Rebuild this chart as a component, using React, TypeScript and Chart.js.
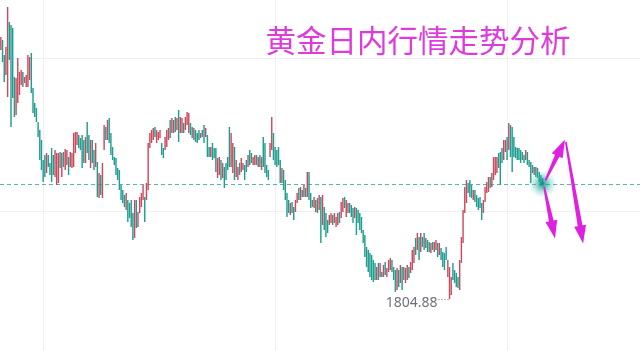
import React, { useEffect, useRef } from "react";
import { Chart, registerables } from "chart.js";

Chart.register(...registerables);

// Candle opens / closes (USD), left to right
const opens: number[] = [
  1854.7, 1856.7, 1853.7, 1849.7, 1845.3, 1860.3, 1859.7, 1859.1, 1849.3, 1841.7,
  1844.1, 1845.7, 1847.7, 1850.3, 1848.1, 1847.3, 1847.3, 1848.7, 1854.1, 1847.1,
  1844.1, 1843.1, 1840.3, 1838.7, 1836.7, 1832.7, 1833.7, 1830.1, 1833.7, 1832.1,
  1835.1, 1833.7, 1829.3, 1827.7, 1828.1, 1834.3, 1829.3, 1834.3, 1830.7, 1831.7,
  1833.3, 1831.3, 1831.1, 1831.3, 1834.1, 1835.7, 1837.7, 1837.1, 1837.7, 1836.7,
  1832.1, 1840.3, 1837.7, 1831.1, 1836.7, 1834.7, 1831.3, 1832.3, 1825.1, 1829.7,
  1825.1, 1834.7, 1839.3, 1836.7, 1841.1, 1838.1, 1835.3, 1833.3, 1833.1, 1831.1,
  1830.7, 1827.7, 1826.7, 1825.7, 1822.7, 1824.7, 1824.1, 1824.7, 1822.1, 1817.1,
  1824.7, 1819.3, 1822.1, 1823.3, 1824.7, 1825.3, 1824.7, 1826.7, 1835.1, 1836.1,
  1836.7, 1839.3, 1836.1, 1836.7, 1837.1, 1836.1, 1835.1, 1834.7, 1835.3, 1836.7,
  1840.7, 1838.1, 1838.1, 1841.3, 1838.7, 1842.7, 1838.1, 1838.1, 1840.1, 1838.7,
  1839.7, 1838.1, 1840.1, 1839.3, 1836.7, 1838.7, 1838.1, 1838.7, 1837.1, 1838.7,
  1839.7, 1837.3, 1837.7, 1835.3, 1833.3, 1836.1, 1835.1, 1835.1, 1829.1, 1829.7,
  1832.7, 1829.1, 1831.3, 1832.1, 1833.3, 1839.3, 1831.3, 1830.1, 1835.3, 1829.3,
  1828.7, 1832.1, 1830.3, 1830.7, 1831.7, 1832.7, 1831.3, 1834.7, 1834.1, 1831.7,
  1831.7, 1833.7, 1831.3, 1833.7, 1830.7, 1837.3, 1836.1, 1831.7, 1830.7, 1833.3,
  1834.7, 1838.1, 1835.3, 1834.7, 1835.3, 1832.7, 1828.1, 1830.7, 1828.7, 1826.1,
  1824.7, 1821.7, 1824.3, 1823.3, 1822.3, 1824.1, 1827.1, 1824.7, 1826.7, 1825.3,
  1827.1, 1825.3, 1830.3, 1826.1, 1824.7, 1823.1, 1822.3, 1825.1, 1822.7, 1825.3,
  1819.7, 1823.3, 1822.1, 1820.7, 1819.7, 1820.1, 1821.7, 1820.1, 1819.3, 1819.7,
  1822.3, 1821.1, 1822.3, 1825.3, 1821.3, 1822.1, 1824.1, 1823.7, 1823.1, 1821.1,
  1823.1, 1822.7, 1822.1, 1821.3, 1818.7, 1817.7, 1815.3, 1814.7, 1814.1, 1813.7,
  1812.7, 1812.1, 1808.7, 1812.1, 1809.3, 1810.3, 1809.3, 1812.3, 1809.3, 1810.3,
  1810.7, 1812.7, 1811.3, 1810.7, 1806.7, 1810.7, 1808.1, 1811.3, 1811.3, 1808.1,
  1808.7, 1811.3, 1810.1, 1810.7, 1812.1, 1817.1, 1814.7, 1817.3, 1814.3, 1817.3,
  1818.1, 1815.1, 1816.7, 1816.3, 1814.1, 1816.3, 1814.3, 1814.7, 1816.1, 1813.7,
  1815.1, 1814.3, 1814.1, 1815.3, 1809.3, 1804.88, 1805.7, 1812.1, 1810.7, 1810.1,
  1809.3, 1806.7, 1812.1, 1816.1, 1822.1, 1824.1, 1828.1, 1828.7, 1827.7, 1824.7,
  1826.7, 1825.7, 1825.1, 1825.3, 1824.1, 1822.1, 1824.3, 1826.1, 1826.3, 1829.3,
  1827.3, 1828.7, 1829.7, 1830.1, 1834.1, 1834.3, 1835.1, 1832.7, 1834.3, 1837.3,
  1834.7, 1839.7, 1839.3, 1837.3, 1835.3, 1835.1, 1835.1, 1834.7, 1834.3, 1833.7,
  1832.7, 1834.3, 1832.7, 1832.3, 1831.7, 1829.7, 1831.3, 1831.1, 1830.3, 1829.7,
  1829.1,
];

const closes: number[] = [
  1857.3, 1852.3, 1848.3, 1855.3, 1863.3, 1852.7, 1839.3, 1845.1, 1841.3, 1849.1,
  1853.1, 1850.3, 1850.7, 1847.3, 1849.3, 1849.7, 1853.7, 1853.3, 1846.1, 1842.1,
  1841.3, 1840.3, 1837.3, 1832.7, 1830.7, 1828.3, 1829.3, 1834.1, 1831.3, 1829.7,
  1828.3, 1829.7, 1834.7, 1834.1, 1834.1, 1831.1, 1834.1, 1831.3, 1834.9, 1834.7,
  1829.7, 1834.3, 1834.1, 1838.1, 1838.3, 1838.3, 1835.1, 1834.7, 1831.1, 1832.1,
  1837.3, 1834.1, 1832.7, 1836.7, 1832.1, 1830.7, 1836.1, 1825.3, 1830.1, 1825.7,
  1832.1, 1839.7, 1836.7, 1840.7, 1836.1, 1833.7, 1832.7, 1831.7, 1829.7, 1828.7,
  1826.7, 1824.7, 1824.1, 1823.3, 1826.1, 1820.3, 1821.1, 1819.3, 1816.7, 1824.7,
  1819.1, 1822.3, 1825.3, 1826.1, 1827.7, 1820.3, 1828.1, 1836.1, 1838.1, 1838.7,
  1839.1, 1837.3, 1838.7, 1838.3, 1838.7, 1833.7, 1833.1, 1837.3, 1838.7, 1839.1,
  1837.1, 1841.1, 1840.7, 1838.3, 1841.1, 1836.3, 1841.3, 1841.1, 1838.1, 1841.3,
  1842.3, 1842.1, 1837.7, 1837.1, 1839.1, 1836.3, 1836.1, 1836.7, 1838.1, 1837.3,
  1836.1, 1839.1, 1833.3, 1833.3, 1835.3, 1832.7, 1833.1, 1830.3, 1833.1, 1833.3,
  1828.7, 1832.1, 1827.1, 1828.7, 1830.7, 1831.3, 1838.1, 1836.1, 1828.7, 1832.7,
  1831.3, 1829.7, 1833.1, 1832.1, 1828.7, 1830.3, 1833.7, 1831.7, 1832.1, 1833.3,
  1833.7, 1831.7, 1833.3, 1831.3, 1833.3, 1831.3, 1830.1, 1829.3, 1828.7, 1836.1,
  1841.3, 1832.7, 1831.7, 1831.3, 1831.7, 1828.1, 1831.1, 1826.7, 1824.7, 1821.3,
  1822.1, 1824.1, 1822.1, 1820.7, 1824.7, 1826.1, 1824.7, 1827.3, 1825.3, 1827.7,
  1825.3, 1830.3, 1824.7, 1823.1, 1823.3, 1825.3, 1824.7, 1822.1, 1825.7, 1816.1,
  1825.7, 1818.7, 1817.3, 1818.1, 1821.7, 1822.1, 1819.7, 1822.1, 1821.3, 1822.1,
  1820.1, 1824.3, 1825.1, 1823.1, 1824.7, 1824.1, 1822.1, 1821.3, 1820.1, 1823.3,
  1817.7, 1820.1, 1818.7, 1818.1, 1816.1, 1813.3, 1811.3, 1810.3, 1809.3, 1808.7,
  1808.3, 1808.7, 1811.3, 1808.7, 1812.1, 1809.3, 1811.7, 1809.7, 1811.1, 1812.7,
  1813.1, 1810.3, 1808.7, 1806.3, 1811.1, 1807.3, 1811.7, 1806.7, 1808.7, 1811.1,
  1811.7, 1809.1, 1812.3, 1814.7, 1815.3, 1813.7, 1818.1, 1812.7, 1818.1, 1815.3,
  1814.7, 1817.1, 1814.3, 1814.3, 1816.1, 1814.7, 1816.3, 1816.7, 1813.3, 1816.1,
  1812.7, 1811.3, 1810.7, 1812.7, 1812.7, 1811.3, 1809.3, 1808.7, 1808.1, 1807.3,
  1807.1, 1812.7, 1817.3, 1822.7, 1827.3, 1828.7, 1826.1, 1825.3, 1825.1, 1826.7,
  1824.3, 1823.3, 1822.7, 1823.1, 1820.7, 1824.7, 1827.3, 1828.3, 1829.3, 1827.1,
  1830.1, 1833.3, 1833.3, 1833.3, 1831.1, 1827.7, 1832.1, 1836.7, 1836.7, 1832.7,
  1840.1, 1833.3, 1830.3, 1833.3, 1833.1, 1832.7, 1832.7, 1832.1, 1832.7, 1832.1,
  1834.7, 1831.7, 1831.3, 1828.1, 1830.1, 1831.3, 1829.3, 1829.1, 1828.3, 1827.7,
  1827.9,
];

const totalSlots = 378; // time slots incl. empty space on the right
const priceMin = 1794.5;
const priceMax = 1864.7;
const priceGridLevels = [1822.5, 1852.9];
const timeGridIdx = [25, 162, 299];
const titleText = "黄金日内行情走势分析";
// forecast arrows: [slot index, price] from -> to
const arrowPaths: number[][][] = [
  [[321.6, 1828.6], [333.2, 1836.8]],
  [[333.7, 1836.3], [343.9, 1816.0]],
  [[320.9, 1827.3], [327.3, 1817.0]],
];

const UP = "#cc4a5e";
const DOWN = "#1d9e8f";

export default function App() {
  const ref = useRef<HTMLCanvasElement>(null);

  useEffect(() => {
    document.body.style.margin = "0";
    const canvas = ref.current!;
    const lastIdx = closes.length - 1;
    const labels = Array.from({ length: totalSlots }, (_, i) => String(i));

    const drawArrow = (ctx: CanvasRenderingContext2D, x1: number, y1: number, x2: number, y2: number) => {
      const dx = x2 - x1, dy = y2 - y1;
      const L = Math.hypot(dx, dy);
      const ux = dx / L, uy = dy / L;
      const nx = -uy, ny = ux;
      const h = 18, hw = 6, w0 = 0.9, w1 = 2.4;
      const bx = x2 - ux * h, by = y2 - uy * h;
      ctx.beginPath();
      ctx.moveTo(x1 + nx * w0, y1 + ny * w0);
      ctx.lineTo(bx + nx * w1, by + ny * w1);
      ctx.lineTo(bx + nx * hw, by + ny * hw);
      ctx.lineTo(x2, y2);
      ctx.lineTo(bx - nx * hw, by - ny * hw);
      ctx.lineTo(bx - nx * w1, by - ny * w1);
      ctx.lineTo(x1 - nx * w0, y1 - ny * w0);
      ctx.closePath();
      ctx.fill();
    };

    const overlay = {
      id: "overlay",
      beforeDatasetsDraw(chart: any) {
        const { ctx, chartArea } = chart;
        const ys = chart.scales.y;
        const y = Math.round(ys.getPixelForValue(closes[lastIdx])) + 0.5;
        ctx.save();
        ctx.strokeStyle = "rgba(38,166,154,0.8)";
        ctx.lineWidth = 1;
        ctx.setLineDash([4, 3]);
        ctx.beginPath();
        ctx.moveTo(chartArea.left, y);
        ctx.lineTo(chartArea.right, y);
        ctx.stroke();
        ctx.restore();
      },
      afterDatasetsDraw(chart: any) {
        const { ctx } = chart;
        const xs = chart.scales.x;
        const ys = chart.scales.y;
        ctx.save();

        // low label
        let minIdx = 0;
        let minVal = Infinity;
        opens.forEach((o, i) => {
          const v = Math.min(o, closes[i]);
          if (v < minVal) { minVal = v; minIdx = i; }
        });
        const lx = xs.getPixelForValue(minIdx);
        const ly = ys.getPixelForValue(minVal);
        ctx.font = '14px "Noto Sans", "DejaVu Sans", sans-serif';
        ctx.fillStyle = "#6f727d";
        ctx.textAlign = "right";
        ctx.textBaseline = "top";
        ctx.fillText(minVal.toFixed(2), lx - 12, ly - 3);
        ctx.strokeStyle = "#787b86";
        ctx.lineWidth = 1;
        ctx.setLineDash([1, 2]);
        ctx.beginPath();
        ctx.moveTo(lx - 11, Math.round(ly) + 0.5);
        ctx.lineTo(lx - 1, Math.round(ly) + 0.5);
        ctx.stroke();
        ctx.setLineDash([]);

        // glow at last price
        const gx = xs.getPixelForValue(lastIdx);
        const gy = ys.getPixelForValue(closes[lastIdx]);
        const g = ctx.createRadialGradient(gx, gy, 0, gx, gy, 14);
        g.addColorStop(0, "rgba(0,140,125,0.95)");
        g.addColorStop(0.3, "rgba(20,160,145,0.6)");
        g.addColorStop(0.65, "rgba(60,185,170,0.28)");
        g.addColorStop(1, "rgba(80,200,185,0)");
        ctx.fillStyle = g;
        ctx.beginPath();
        ctx.arc(gx, gy, 14, 0, Math.PI * 2);
        ctx.fill();

        // arrows
        ctx.fillStyle = "#e020e0";
        arrowPaths.forEach(([a, b]) => {
          drawArrow(
            ctx,
            xs.getPixelForValue(a[0]), ys.getPixelForValue(a[1]),
            xs.getPixelForValue(b[0]), ys.getPixelForValue(b[1])
          );
        });

        // title
        ctx.font = '30.5px "Noto Sans CJK SC", sans-serif';
        ctx.fillStyle = "#de3ade";
        ctx.textAlign = "center";
        ctx.textBaseline = "middle";
        ctx.fillText(titleText, 418, 40);
        ctx.restore();
      },
    };

    const chart = new Chart(canvas, {
      type: "bar",
      data: {
        labels,
        datasets: [
          {
            data: opens.map((o, i) => [o, closes[i]]) as any,
            backgroundColor: opens.map((o, i) => (closes[i] >= o ? UP : DOWN)),
            barPercentage: 1,
            categoryPercentage: 0.85,
            borderWidth: 0,
          },
        ],
      },
      options: {
        animation: false,
        responsive: true,
        maintainAspectRatio: false,
        events: [],
        layout: { padding: 0 },
        plugins: { legend: { display: false }, tooltip: { enabled: false }, title: { display: false } },
        scales: {
          x: { type: "category", display: false, offset: true },
          gx: {
            type: "linear",
            position: "bottom",
            offset: false,
            min: -0.5,
            max: totalSlots - 0.5,
            afterBuildTicks: (axis: any) => {
              axis.ticks = timeGridIdx.map((v) => ({ value: v }));
            },
            grid: { color: "#f0f0f3", drawTicks: false, offset: false },
            ticks: { display: false },
            border: { display: false },
          },
          y: {
            type: "linear",
            min: priceMin,
            max: priceMax,
            afterBuildTicks: (axis: any) => {
              axis.ticks = priceGridLevels.map((v) => ({ value: v }));
            },
            grid: { color: "#f0f0f3", drawTicks: false },
            ticks: { display: false },
            border: { display: false },
          },
        },
      },
      plugins: [overlay],
    });
    return () => chart.destroy();
  }, []);

  return (
    <div style={{ position: "relative", width: 640, height: 351, background: "#fff" }}>
      <canvas ref={ref} />
    </div>
  );
}
